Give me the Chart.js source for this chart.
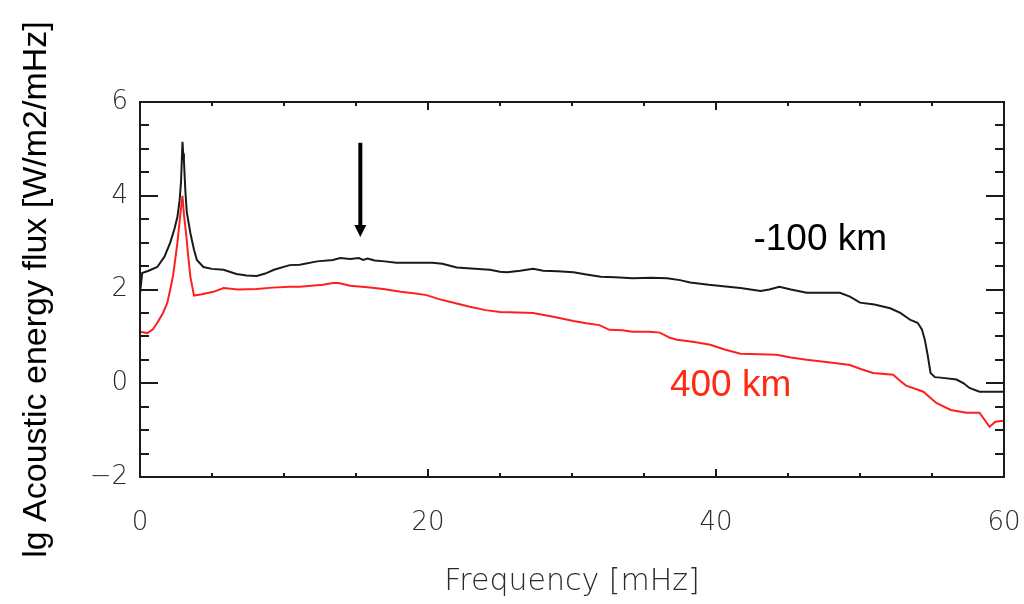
<!DOCTYPE html>
<html>
<head>
<meta charset="utf-8">
<script src="https://cdn.jsdelivr.net/npm/chart.js@4.4.0/dist/chart.umd.min.js"></script>
<style>
  html, body { margin: 0; padding: 0; background: #fff; }
  #wrap { width: 1024px; height: 604px; position: relative; }
</style>
</head>
<body>
<div id="wrap"><canvas id="fluxChart" width="1024" height="604"></canvas></div>
<script>
// acoustic energy flux spectra at two heights (lg scale)
const freqDeep = [0, 0.15, 0.6, 1.2, 1.7, 2.1, 2.4, 2.6, 2.75, 2.85, 2.95, 3.0, 3.05, 3.15, 3.25, 3.5, 3.75, 3.95, 4.4, 5.0,
  5.8, 6.7, 7.4, 8.1, 8.7, 9.3, 10.4, 11.1, 12.3, 13.4, 13.9, 14.6, 15.2, 15.5, 15.8, 16.3, 17.0, 17.8, 19.0, 20.3,
  21.0, 22.0, 23.0, 24.3, 25.0, 25.5, 26.4, 27.3, 28.0, 29.0, 30.1, 31.0, 32.0, 33.0, 34.2, 35.5, 36.6, 37.5, 38.2, 39.5,
  40.5, 41.7, 43.1, 43.7, 44.4, 45.2, 46.3, 47.5, 48.6, 49.3, 50.0, 51.0, 52.1, 52.8, 53.5, 54.0, 54.3, 54.5, 54.7, 54.9,
  55.2, 55.6, 56.7, 57.2, 57.6, 58.3, 59.0, 60.0];
const fluxDeep = [1.9, 2.35, 2.4, 2.48, 2.7, 3.0, 3.3, 3.55, 3.9, 4.3, 5.15, 4.9, 4.75, 4.1, 3.65, 3.2, 2.85, 2.63, 2.48, 2.44,
  2.42, 2.33, 2.3, 2.29, 2.34, 2.42, 2.52, 2.53, 2.6, 2.63, 2.67, 2.65, 2.67, 2.63, 2.66, 2.62, 2.6, 2.57, 2.57, 2.57,
  2.55, 2.47, 2.45, 2.42, 2.38, 2.37, 2.4, 2.44, 2.4, 2.39, 2.37, 2.32, 2.27, 2.26, 2.24, 2.25, 2.24, 2.2, 2.15, 2.1,
  2.07, 2.03, 1.97, 2.0, 2.06, 2.0, 1.93, 1.93, 1.93, 1.85, 1.72, 1.68, 1.6, 1.5, 1.35, 1.29, 1.15, 0.93, 0.6, 0.22,
  0.13, 0.12, 0.08, 0.0, -0.1, -0.18, -0.18, -0.18];

const freqHigh = [0, 0.5, 0.9, 1.2, 1.6, 1.9, 2.1, 2.3, 2.6, 2.8, 2.95, 3.05, 3.2, 3.35, 3.5, 3.75, 4.3, 5.1, 5.8, 6.8,
  8.1, 9.2, 10.4, 11.1, 12.7, 13.4, 13.8, 14.6, 15.8, 16.9, 18.1, 19.0, 19.9, 20.7, 21.5, 22.9, 24.0, 25.0, 26.2, 27.3,
  28.7, 30.1, 31.0, 31.9, 32.6, 33.5, 34.2, 35.4, 36.1, 36.8, 37.3, 38.5, 39.6, 40.6, 41.7, 43.0, 44.2, 45.2, 46.3, 47.8,
  49.3, 50.1, 50.9, 52.3, 52.8, 53.2, 54.4, 55.3, 56.3, 57.4, 58.3, 59.0, 59.4, 60.0];
const fluxHigh = [1.1, 1.07, 1.15, 1.29, 1.5, 1.72, 2.0, 2.3, 3.0, 3.6, 4.0, 3.6, 3.2, 2.7, 2.27, 1.87, 1.9, 1.95, 2.03, 2.0,
  2.01, 2.04, 2.06, 2.06, 2.1, 2.14, 2.14, 2.08, 2.05, 2.01, 1.95, 1.92, 1.88, 1.8, 1.74, 1.63, 1.56, 1.52, 1.51, 1.5,
  1.42, 1.33, 1.28, 1.24, 1.14, 1.13, 1.1, 1.1, 1.08, 0.97, 0.93, 0.88, 0.82, 0.72, 0.63, 0.62, 0.61, 0.55, 0.5, 0.45,
  0.39, 0.3, 0.22, 0.18, 0.05, -0.05, -0.18, -0.42, -0.57, -0.63, -0.63, -0.93, -0.82, -0.8];

const xTickValues = [0, 20, 40, 60];
const yTickValues = [-2, 0, 2, 4, 6];
const yTickLabels = ['\u22122', '0', '2', '4', '6'];

const seriesNames = ['-100 km', '400 km'];
const seriesNotes = [{ x: 42.6, y: 3.05 }, { x: 36.8, y: -0.05 }];   // where the height labels sit
const arrowAt = { x: 15.3, yFrom: 5.13, yTo: 3.12 };

const INK = '#1a1a1a';
const RED = '#ff1f1f';

const toPoints = (xs, ys) => xs.map((x, i) => ({ x, y: ys[i] }));

// box frame with inward ticks on all four sides, IDL style
const frameTicks = {
  id: 'frameTicks',
  afterDatasetsDraw(chart) {
    const { ctx, chartArea: a, scales: { x, y } } = chart;
    ctx.save();
    ctx.strokeStyle = INK;
    ctx.lineWidth = 2;
    ctx.strokeRect(a.left, a.top, a.right - a.left, a.bottom - a.top);
    ctx.beginPath();
    for (let v = 0; v <= 60; v += 5) {
      const px = Math.round(x.getPixelForValue(v));
      const len = v % 20 === 0 ? 8 : 4;
      ctx.moveTo(px, a.bottom); ctx.lineTo(px, a.bottom - len);
      ctx.moveTo(px, a.top); ctx.lineTo(px, a.top + len);
    }
    for (let v = -2; v <= 6; v += 0.5) {
      const py = Math.round(y.getPixelForValue(v));
      const len = v % 2 === 0 ? 18 : 9;
      ctx.moveTo(a.left, py); ctx.lineTo(a.left + len, py);
      ctx.moveTo(a.right, py); ctx.lineTo(a.right - len, py);
    }
    ctx.stroke();
    ctx.restore();
  }
};

// arrow marker and the height labels, placed in data coordinates
const annotations = {
  id: 'annotations',
  afterDatasetsDraw(chart) {
    const { ctx, scales: { x, y } } = chart;
    ctx.save();
    const ax = x.getPixelForValue(arrowAt.x);
    const y0 = y.getPixelForValue(arrowAt.yFrom);
    const y1 = y.getPixelForValue(arrowAt.yTo);
    ctx.strokeStyle = '#000';
    ctx.lineWidth = 4;
    ctx.beginPath();
    ctx.moveTo(ax, y0); ctx.lineTo(ax, y1 - 8);
    ctx.stroke();
    ctx.fillStyle = '#000';
    ctx.beginPath();
    ctx.moveTo(ax - 6, y1 - 12); ctx.lineTo(ax + 6, y1 - 12); ctx.lineTo(ax, y1);
    ctx.closePath();
    ctx.fill();

    ctx.font = '37px "Liberation Sans", Arial, sans-serif';
    ctx.textBaseline = 'middle';
    ctx.textAlign = 'left';
    ['#000', '#ff2a12'].forEach((col, i) => {
      ctx.fillStyle = col;
      ctx.fillText(seriesNames[i], x.getPixelForValue(seriesNotes[i].x), y.getPixelForValue(seriesNotes[i].y));
    });
    ctx.restore();
  }
};

const tickFont = { family: '"DejaVu Sans", sans-serif', size: 26, weight: '300' };

new Chart(document.getElementById('fluxChart').getContext('2d'), {
  type: 'line',
  data: {
    datasets: [
      { label: seriesNames[0], data: toPoints(freqDeep, fluxDeep), borderColor: INK, borderWidth: 2, pointRadius: 0, tension: 0 },
      { label: seriesNames[1], data: toPoints(freqHigh, fluxHigh), borderColor: RED, borderWidth: 2, pointRadius: 0, tension: 0 }
    ]
  },
  options: {
    responsive: false,
    animation: false,
    layout: { padding: { left: 0, right: 20, top: 102, bottom: 0 } },
    plugins: { legend: { display: false }, tooltip: { enabled: false } },
    scales: {
      x: {
        type: 'linear', min: 0, max: 60,
        afterBuildTicks: (s) => { s.ticks = xTickValues.map(v => ({ value: v })); },
        afterFit: (s) => { s.height = 127; s.paddingLeft = 0; s.paddingRight = 0; },
        ticks: { font: tickFont, color: '#2a2a2a', padding: 31, maxRotation: 0 },
        grid: { display: false, drawTicks: false },
        border: { display: false },
        title: {
          display: true, text: 'Frequency [mHz]',
          font: { family: '"DejaVu Sans", sans-serif', size: 30, weight: '300' }, color: '#2a2a2a',
          padding: { top: 0, bottom: 4 }
        }
      },
      y: {
        type: 'linear', min: -2, max: 6,
        afterBuildTicks: (s) => { s.ticks = yTickValues.map(v => ({ value: v })); },
        afterFit: (s) => { s.width = 140; s.paddingTop = 0; s.paddingBottom = 0; },
        ticks: {
          font: tickFont, color: '#2a2a2a', padding: 12,
          callback: (v) => yTickLabels[yTickValues.indexOf(v)]
        },
        grid: { display: false, drawTicks: false },
        border: { display: false },
        title: {
          display: true, text: 'lg Acoustic energy flux [W/m2/mHz]',
          font: { family: '"Liberation Sans", Arial, sans-serif', size: 34 }, color: '#000',
          padding: { top: 16, bottom: 0 }
        }
      }
    }
  },
  plugins: [frameTicks, annotations]
});
</script>
</body>
</html>
